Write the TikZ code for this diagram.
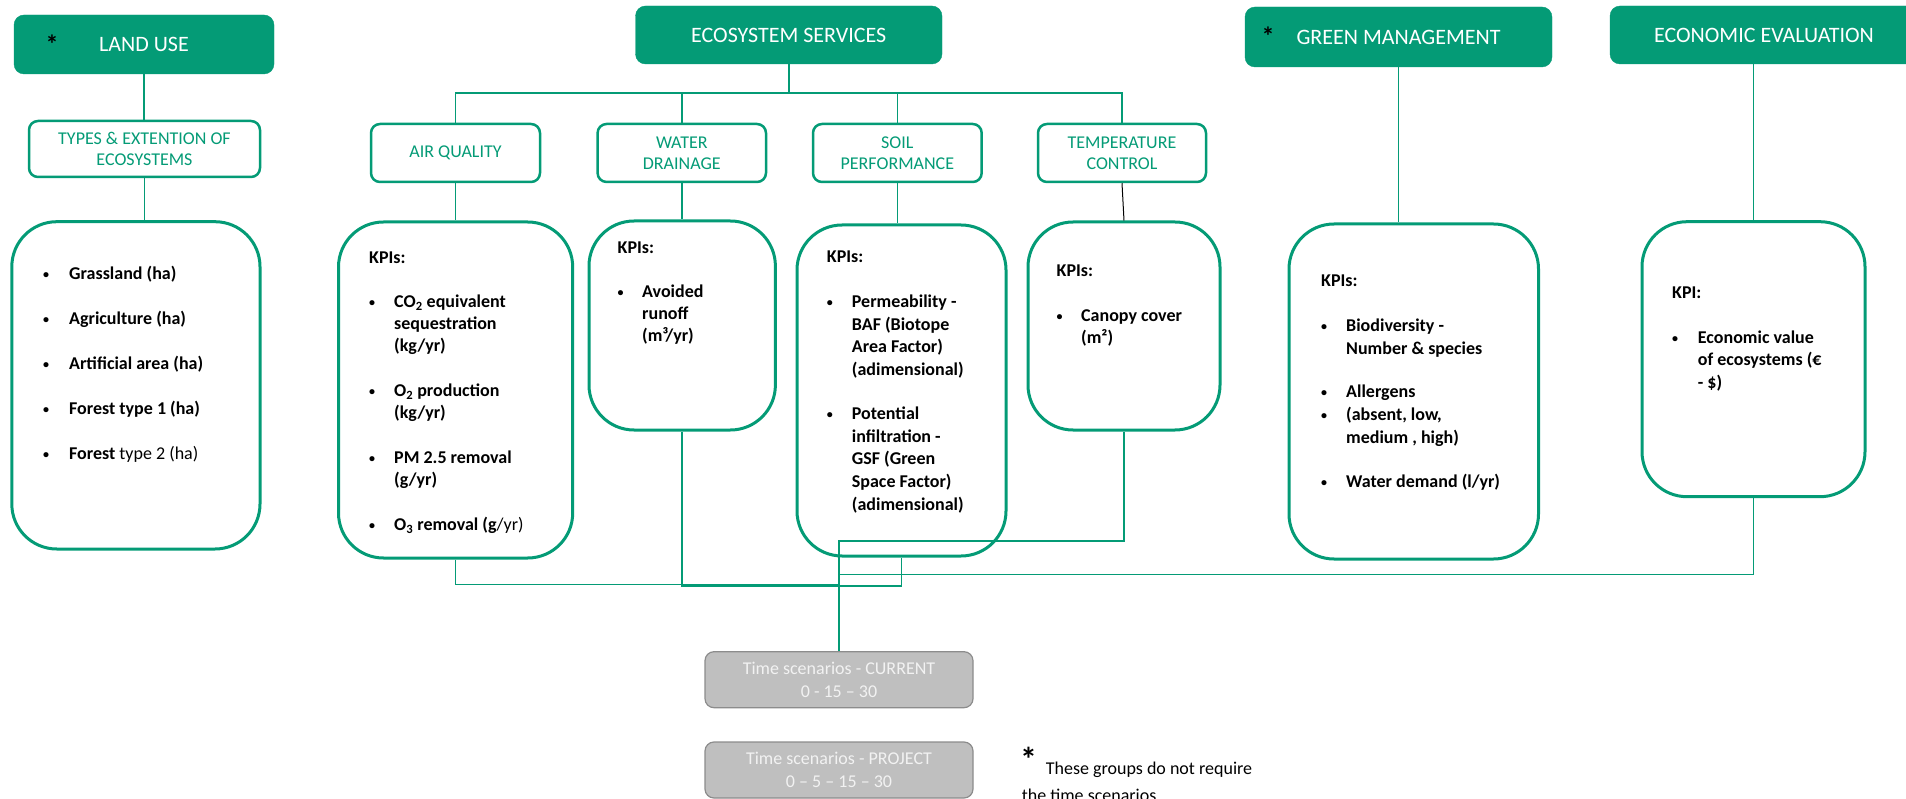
\documentclass[tikz,border=0pt]{standalone}
\usepackage{fontspec}
\setmainfont{Carlito}
\usetikzlibrary{calc}
\definecolor{eco}{HTML}{049B76}
\definecolor{gfill}{HTML}{BFBFBF}
\definecolor{gline}{HTML}{8C8C8C}
\definecolor{gtext}{HTML}{F2F2F2}
\newcommand\kb{\makebox[0pt][c]{\raisebox{1.6pt}{\fontsize{12}{12}\selectfont\textbullet}}}
\newcommand\kh[1]{\multicolumn{2}{@{}l@{}}{\hspace{-3pt}#1}}
\begin{document}
\begin{tikzpicture}[x=1pt,y=-1pt,
 head/.style={fill=eco,draw=eco,rounded corners=10pt,text=white,font=\fontsize{22}{26}\selectfont,inner sep=0pt},
 sub/.style={draw=eco,line width=2.5pt,fill=white,rounded corners=9pt,text=eco,font=\fontsize{18}{21}\selectfont,align=center,inner sep=0pt},
 kpi/.style={draw=eco,line width=3pt,rounded corners=45pt,inner sep=0pt},
 conn/.style={draw=eco,line width=1.6pt},
 gbox/.style={fill=gfill,draw=gline,line width=1.2pt,rounded corners=9pt,text=gtext,font=\fontsize{18}{23}\selectfont,align=center,inner sep=0pt},
 ktext/.style={anchor=base west,inner sep=0pt,font=\fontsize{18}{22}\selectfont\bfseries,text=black},
 star/.style={anchor=base,inner sep=0pt,text=black}]
\useasboundingbox (0,0) rectangle (1906,799);

% headers
\node[head,minimum width=260pt,minimum height=59pt] (landuse) at (144,44.5) {LAND USE};
\node[head,minimum width=306.5pt,minimum height=58pt] (es) at (788.75,35) {ECOSYSTEM SERVICES};
\node[head,minimum width=307pt,minimum height=60pt] (gm) at (1398.5,37) {GREEN MANAGEMENT};
\node[head,minimum width=308pt,minimum height=58pt] (econ) at (1764,35) {ECONOMIC EVALUATION};
\node[star,font=\fontsize{26}{26}\selectfont\bfseries] (st1) at (52,54) {*};
\node[star,font=\fontsize{26}{26}\selectfont\bfseries] (st2) at (1268,46) {*};

% sub headers
\node[sub,minimum width=231pt,minimum height=56pt] (types) at (144.5,149) {TYPES \& EXTENTION OF\\ECOSYSTEMS};
\node[sub,minimum width=169pt,minimum height=58pt] (air) at (455.5,153) {AIR QUALITY};
\node[sub,minimum width=168.4pt,minimum height=58pt] (water) at (681.8,153) {WATER\\DRAINAGE};
\node[sub,minimum width=168.7pt,minimum height=58pt] (soil) at (897.35,153) {SOIL\\PERFORMANCE};
\node[sub,minimum width=168pt,minimum height=58pt] (temp) at (1122,153) {TEMPERATURE\\CONTROL};

% KPI boxes
\node[kpi,minimum width=248.2pt,minimum height=327.3pt] (landk) at (135.9,385.35) {};
\node[kpi,minimum width=234.2pt,minimum height=336pt] (airk) at (455.6,390) {};
\node[kpi,minimum width=186.4pt,minimum height=209pt] (waterk) at (682.2,325.5) {};
\node[kpi,minimum width=209pt,minimum height=331pt] (soilk) at (901.5,390.5) {};
\node[kpi,minimum width=192pt,minimum height=208pt] (tempk) at (1124,326) {};
\node[kpi,minimum width=249.5pt,minimum height=335pt] (gmk) at (1413.75,391.5) {};
\node[kpi,minimum width=223pt,minimum height=275pt] (econk) at (1753.5,359.2) {};

% KPI texts
\node[ktext] (landt) at (46,280) {\begin{tabular}[t]{@{}p{23pt}@{}l@{}}
\kb & Grassland (ha)\\[23pt]
\kb & Agriculture (ha)\\[23pt]
\kb & Artificial area (ha)\\[23pt]
\kb & Forest type 1 (ha)\\[23pt]
\kb & Forest \mdseries type 2 (ha)
\end{tabular}};
\node[ktext] (airt) at (372,264) {\begin{tabular}[t]{@{}p{22pt}@{}l@{}}
\kh{KPIs:}\\[22pt]
\kb & CO\textsubscript{2} equivalent\\
 & sequestration\\
 & (kg/yr)\\[23pt]
\kb & O\textsubscript{2} production\\
 & (kg/yr)\\[23pt]
\kb & PM 2.5 removal\\
 & (g/yr)\\[23pt]
\kb & O\textsubscript{3} removal (g\mdseries/yr)
\end{tabular}};
\node[ktext] (watert) at (620.5,254) {\begin{tabular}[t]{@{}p{21.5pt}@{}l@{}}
\kh{KPIs:}\\[22pt]
\kb & Avoided\\
 & runoff\\
 & (m³/yr)
\end{tabular}};
\node[ktext] (soilt) at (829.7,263) {\begin{tabular}[t]{@{}p{22pt}@{}l@{}}
\kh{KPIs:}\\[23pt]
\kb & Permeability -\\[0.4pt]
 & BAF (Biotope\\[0.4pt]
 & Area Factor)\\[0.4pt]
 & (adimensional)\\[22.5pt]
\kb & Potential\\[0.6pt]
 & infiltration -\\[0.6pt]
 & GSF (Green\\[0.6pt]
 & Space Factor)\\[0.6pt]
 & (adimensional)
\end{tabular}};
\node[ktext] (tempt) at (1059.5,277) {\begin{tabular}[t]{@{}p{21.5pt}@{}l@{}}
\kh{KPIs:}\\[23pt]
\kb & Canopy cover\\
 & (m²)
\end{tabular}};
\node[ktext] (gmt) at (1324,287) {\begin{tabular}[t]{@{}p{22pt}@{}l@{}}
\kh{KPIs:}\\[23pt]
\kb & Biodiversity -\\[1pt]
 & Number \& species\\[21pt]
\kb & Allergens\\[1pt]
\kb & (absent, low,\\[1pt]
 & medium , high)\\[22pt]
\kb & Water demand (l/yr)
\end{tabular}};
\node[ktext] (econt) at (1675,299) {\begin{tabular}[t]{@{}p{22.7pt}@{}l@{}}
\kh{KPI:}\\[23pt]
\kb & Economic value\\
 & of ecosystems (€\\[0.5pt]
 & - \$)
\end{tabular}};

% time scenarios
\node[gbox,minimum width=268pt,minimum height=56pt] (cur) at (839,679.7) {Time scenarios - CURRENT\\0 - 15 – 30};
\node[gbox,minimum width=268pt,minimum height=56pt] (proj) at (839,770) {Time scenarios - PROJECT\\0 – 5 – 15 – 30};

% footnote
\node[star,font=\fontsize{34}{34}\selectfont\bfseries] (st3) at (1028.5,771) {*};
\node[ktext,font=\fontsize{18}{22}\selectfont] (note1) at (1045.7,774) {These groups do not require};
\node[ktext,font=\fontsize{18}{22}\selectfont] (note2) at (1021.6,801) {the time scenarios};

% top connectors
\coordinate (busy) at (0,93);
\draw[conn] (landuse.south) -- (landuse.south |- types.north);
\draw[conn] (types.south) -- (types.south |- landk.north);
\draw[conn] (es.south) -- (es.south |- busy);
\draw[conn] (air.north) -- (air.north |- busy) -- (temp.north |- busy) -- (temp.north);
\draw[conn] (water.north) -- (water.north |- busy);
\draw[conn] (soil.north) -- (soil.north |- busy);
\draw[conn] (air.south) -- (air.south |- airk.north);
\draw[conn] (water.south) -- (water.south |- waterk.north);
\draw[conn] (soil.south) -- (soil.south |- soilk.north);
\draw[black,line width=1pt] (temp.south) -- (tempk.north);
\draw[conn,line width=1.2pt] (gm.south -| gmk.north) ++(-15,0) coordinate (gmtop) -- (gmtop |- gmk.north);
\draw[conn,line width=1.2pt] (econk.north) -- (econk.north |- econ.south);

% bottom connectors
\coordinate (ya) at (0,584.3);
\coordinate (yw) at (0,585.7);
\coordinate (yt) at (0,541);
\coordinate (ye) at (0,574.3);
\draw[conn] (airk.south) -- (airk.south |- ya) -- (cur.north |- ya);
\draw[conn] (waterk.south) -- (waterk.south |- yw) -- (soilk.south |- yw) -- (soilk.south);
\draw[conn] (tempk.south) -- (tempk.south |- yt) -- (cur.north |- yt) -- (cur.north);
\draw[conn] (econk.south) -- (econk.south |- ye) -- (cur.north |- ye);
\end{tikzpicture}
\end{document}
